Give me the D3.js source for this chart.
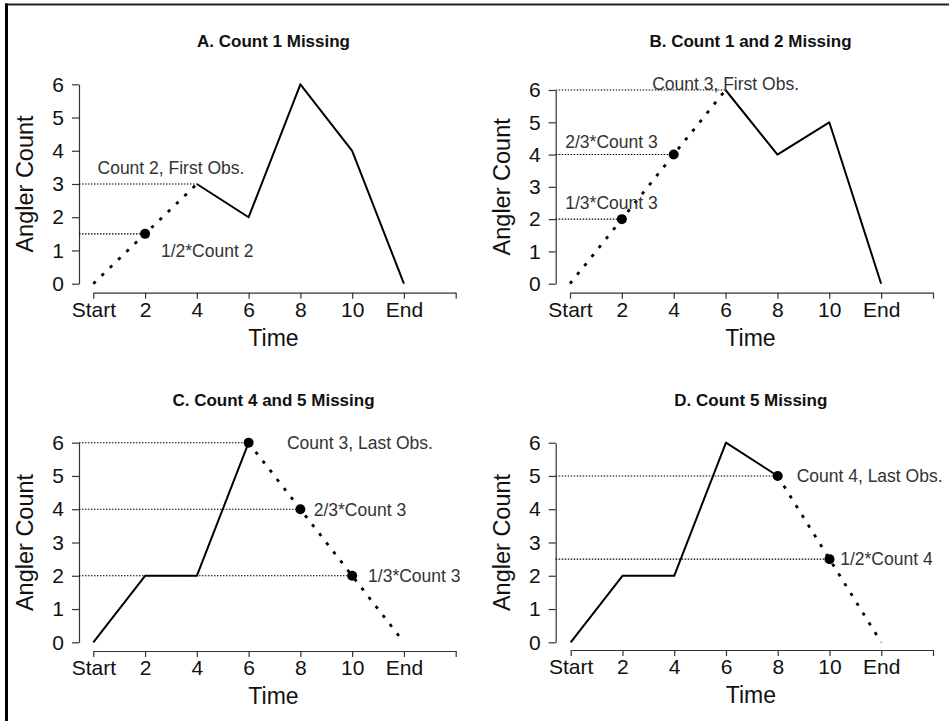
<!DOCTYPE html>
<html>
<head>
<meta charset="utf-8">
<script src="https://cdn.jsdelivr.net/npm/d3@7"></script>
<style>
  body { margin: 0; background: #fff; }
  svg { display: block; font-family: "Liberation Sans", Arial, sans-serif; }
</style>
</head>
<body>
<svg id="canvas"></svg>
<script>
// shared axis values
let timeTicks = [0, 2, 4, 6, 8, 10, 12, 14]
let timeLabels = ["Start", "2", "4", "6", "8", "10", "End", ""]
let countTicks = [0, 1, 2, 3, 4, 5, 6]

// panel titles
let titles = ["A. Count 1 Missing", "B. Count 1 and 2 Missing", "C. Count 4 and 5 Missing", "D. Count 5 Missing"]

// observed counts (solid line), [time, count]
let observedA = [[4, 3], [6, 2], [8, 6], [10, 4], [12, 0]]
let observedB = [[6, 6], [8, 4], [10, 5], [12, 0]]
let observedC = [[0, 0], [2, 2], [4, 2], [6, 6]]
let observedD = [[0, 0], [2, 2], [4, 2], [6, 6], [8, 5]]

// imputed counts (dotted line)
let imputedA = [[0, 0], [2, 1.5], [4, 3]]
let imputedB = [[0, 0], [2, 2], [4, 4], [6, 6]]
let imputedC = [[6, 6], [8, 4], [10, 2], [12, 0]]
let imputedD = [[8, 5], [10, 2.5], [12, 0]]

// filled points
let markedA = [[2, 1.5]]
let markedB = [[2, 2], [4, 4]]
let markedC = [[6, 6], [8, 4], [10, 2]]
let markedD = [[8, 5], [10, 2.5]]

// dotted reference lines back to the count axis
let guideA = [[4, 3], [2, 1.5]]
let guideB = [[6, 6], [4, 4], [2, 2]]
let guideC = [[6, 6], [8, 4], [10, 2]]
let guideD = [[8, 5], [10, 2.5]]

// annotations: [text, time, count]
let notesA = [["Count 2, First Obs.", 3, 3.5], ["1/2*Count 2", 4.4, 1]]
let notesB = [["Count 3, First Obs.", 6, 6.2], ["2/3*Count 3", 1.6, 4.4], ["1/3*Count 3", 1.6, 2.5]]
let notesC = [["Count 3, Last Obs.", 10.3, 6], ["2/3*Count 3", 10.3, 4], ["1/3*Count 3", 12.4, 2]]
let notesD = [["Count 4, Last Obs.", 11.55, 5], ["1/2*Count 4", 12.2, 2.5]]

let width = 949
let height = 721

// pixel layout of each panel
let layout = [
  { x0: 93.3, x1: 455.7, y0: 283.7, y1: 84.3, axisY: 292.7, axisX: 79, titleY: 47 },
  { x0: 570, x1: 933, y0: 283.7, y1: 90, axisY: 292.7, axisX: 555.7, titleY: 47 },
  { x0: 93.3, x1: 455.7, y0: 642.3, y1: 442.7, axisY: 651, axisX: 79, titleY: 405.5 },
  { x0: 570.7, x1: 933, y0: 642.3, y1: 442.7, axisY: 650, axisX: 555.7, titleY: 405.5 }
]

let panels = [
  { observed: observedA, imputed: imputedA, marked: markedA, guide: guideA, notes: notesA },
  { observed: observedB, imputed: imputedB, marked: markedB, guide: guideB, notes: notesB },
  { observed: observedC, imputed: imputedC, marked: markedC, guide: guideC, notes: notesC },
  { observed: observedD, imputed: imputedD, marked: markedD, guide: guideD, notes: notesD }
]

let canvas = d3.select("#canvas")
  .attr("width", width)
  .attr("height", height)

// outer frame (only top and left edges show)
canvas.append("line")
  .attr("x1", 5).attr("x2", width).attr("y1", 4.5).attr("y2", 4.5)
  .attr("stroke", "#222").attr("stroke-width", 2)
canvas.append("line")
  .attr("x1", 6.5).attr("x2", 6.5).attr("y1", 3.5).attr("y2", height)
  .attr("stroke", "#000").attr("stroke-width", 3)

let drawPanel = (panel, i) => {
  let box = layout[i]
  let g = canvas.append("g")

  let x = d3.scaleLinear().domain([0, 14]).range([box.x0, box.x1])
  let y = d3.scaleLinear().domain([0, 6]).range([box.y0, box.y1])

  let line = d3.line().x(d => x(d[0])).y(d => y(d[1]))

  // title
  g.append("text")
    .attr("x", (box.x0 + box.x1) / 2 - 1)
    .attr("y", box.titleY)
    .attr("text-anchor", "middle")
    .attr("font-weight", "bold")
    .attr("font-size", 17)
    .attr("fill", "#111")
    .text(titles[i])

  // axes
  let xAxis = d3.axisBottom(x)
    .tickValues(timeTicks)
    .tickFormat((d, k) => timeLabels[k])
    .tickSize(6)
    .tickSizeOuter(0)
    .tickPadding(3)
  let gx = g.append("g")
    .attr("transform", "translate(0," + box.axisY + ")")
    .call(xAxis)

  let yAxis = d3.axisLeft(y)
    .tickValues(countTicks)
    .tickFormat(d3.format("d"))
    .tickSize(7)
    .tickSizeOuter(0)
    .tickPadding(8)
  let gy = g.append("g")
    .attr("transform", "translate(" + box.axisX + ",0)")
    .call(yAxis)

  for (let ax of [gx, gy]) {
    ax.selectAll("path, line").attr("stroke", "#333").attr("stroke-width", 1.2)
    ax.selectAll("text")
      .attr("font-size", 21)
      .attr("fill", "#111")
      .attr("font-family", "'Liberation Sans', Arial, sans-serif")
  }

  g.append("text")
    .attr("x", (box.x0 + box.x1) / 2 - 1)
    .attr("y", box.axisY + 53)
    .attr("text-anchor", "middle")
    .attr("font-size", 23)
    .attr("fill", "#111")
    .text("Time")

  g.append("text")
    .attr("transform", "translate(" + (box.axisX - 46) + "," + ((box.y0 + box.y1) / 2) + ") rotate(-90)")
    .attr("text-anchor", "middle")
    .attr("font-size", 23.5)
    .attr("fill", "#111")
    .text("Angler Count")

  // guide lines to the y axis
  g.selectAll(".guide")
    .data(panel.guide)
    .enter()
    .append("line")
    .attr("class", "guide")
    .attr("x1", box.axisX)
    .attr("x2", d => x(d[0]))
    .attr("y1", d => y(d[1]))
    .attr("y2", d => y(d[1]))
    .attr("stroke", "#000")
    .attr("stroke-width", 1.1)
    .attr("stroke-dasharray", "1.5,1.5")

  // observed series
  g.append("path")
    .attr("d", line(panel.observed))
    .attr("fill", "none")
    .attr("stroke", "#000")
    .attr("stroke-width", 2)
    .attr("stroke-linejoin", "round")

  // imputed series
  g.append("path")
    .attr("d", line(panel.imputed))
    .attr("fill", "none")
    .attr("stroke", "#000")
    .attr("stroke-width", 2.8)
    .attr("stroke-dasharray", "3.2,8.3")

  g.selectAll(".pt")
    .data(panel.marked)
    .enter()
    .append("circle")
    .attr("class", "pt")
    .attr("cx", d => x(d[0]))
    .attr("cy", d => y(d[1]))
    .attr("r", 5)
    .attr("fill", "#000")

  g.selectAll(".note")
    .data(panel.notes)
    .enter()
    .append("text")
    .attr("class", "note")
    .attr("x", d => x(d[1]))
    .attr("y", d => y(d[2]))
    .attr("dy", "0.36em")
    .attr("text-anchor", "middle")
    .attr("font-size", 17.5)
    .attr("fill", "#333")
    .text(d => d[0])
}

panels.forEach(drawPanel)
</script>
</body>
</html>
